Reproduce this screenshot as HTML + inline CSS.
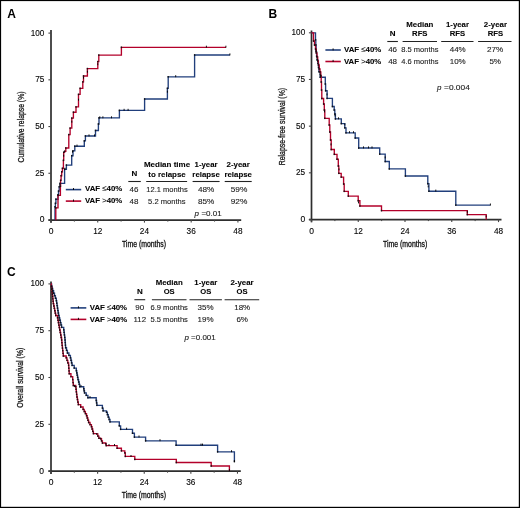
<!DOCTYPE html>
<html><head><meta charset="utf-8"><title>Figure</title>
<style>
html,body{margin:0;padding:0;background:#fff;}
body{width:520px;height:508px;overflow:hidden;}
svg{display:block;font-family:"Liberation Sans", sans-serif;will-change:transform;}
</style></head>
<body>
<svg width="520" height="508" viewBox="0 0 520 508">
<rect x="0" y="0" width="520" height="508" fill="#fff"/>
<text x="7.2" y="17.6" font-size="12" font-weight="bold" fill="#000">A</text>
<line x1="51.0" y1="30.0" x2="51.0" y2="222.8" stroke="#2e2e2e" stroke-width="1.7"/>
<line x1="48.4" y1="220.0" x2="241.2" y2="220.0" stroke="#2e2e2e" stroke-width="1.75"/>
<line x1="48.4" y1="220.0" x2="51.0" y2="220.0" stroke="#444" stroke-width="1.1"/>
<text x="44.4" y="222.45" font-size="8.8" text-anchor="end" textLength="4.75" lengthAdjust="spacingAndGlyphs" stroke="#1a1a1a" stroke-width="0.12">0</text>
<line x1="48.4" y1="173.275" x2="51.0" y2="173.275" stroke="#444" stroke-width="1.1"/>
<text x="44.4" y="175.72" font-size="8.8" text-anchor="end" textLength="9.200000000000001" lengthAdjust="spacingAndGlyphs" stroke="#1a1a1a" stroke-width="0.12">25</text>
<line x1="48.4" y1="126.55" x2="51.0" y2="126.55" stroke="#444" stroke-width="1.1"/>
<text x="44.4" y="129.00" font-size="8.8" text-anchor="end" textLength="9.200000000000001" lengthAdjust="spacingAndGlyphs" stroke="#1a1a1a" stroke-width="0.12">50</text>
<line x1="48.4" y1="79.82499999999999" x2="51.0" y2="79.82499999999999" stroke="#444" stroke-width="1.1"/>
<text x="44.4" y="82.27" font-size="8.8" text-anchor="end" textLength="9.200000000000001" lengthAdjust="spacingAndGlyphs" stroke="#1a1a1a" stroke-width="0.12">75</text>
<line x1="48.4" y1="33.099999999999994" x2="51.0" y2="33.099999999999994" stroke="#444" stroke-width="1.1"/>
<text x="44.4" y="35.55" font-size="8.8" text-anchor="end" textLength="13.650000000000002" lengthAdjust="spacingAndGlyphs" stroke="#1a1a1a" stroke-width="0.12">100</text>
<line x1="51.0" y1="220.0" x2="51.0" y2="222.6" stroke="#444" stroke-width="1.1"/>
<text x="51.00" y="233.9" font-size="8.8" text-anchor="middle" textLength="4.75" lengthAdjust="spacingAndGlyphs" stroke="#1a1a1a" stroke-width="0.12">0</text>
<line x1="74.364" y1="220.0" x2="74.364" y2="221.6" stroke="#444" stroke-width="1.0"/>
<line x1="97.72800000000001" y1="220.0" x2="97.72800000000001" y2="222.6" stroke="#444" stroke-width="1.1"/>
<text x="97.73" y="233.9" font-size="8.8" text-anchor="middle" textLength="9.200000000000001" lengthAdjust="spacingAndGlyphs" stroke="#1a1a1a" stroke-width="0.12">12</text>
<line x1="121.092" y1="220.0" x2="121.092" y2="221.6" stroke="#444" stroke-width="1.0"/>
<line x1="144.45600000000002" y1="220.0" x2="144.45600000000002" y2="222.6" stroke="#444" stroke-width="1.1"/>
<text x="144.46" y="233.9" font-size="8.8" text-anchor="middle" textLength="9.200000000000001" lengthAdjust="spacingAndGlyphs" stroke="#1a1a1a" stroke-width="0.12">24</text>
<line x1="167.82" y1="220.0" x2="167.82" y2="221.6" stroke="#444" stroke-width="1.0"/>
<line x1="191.184" y1="220.0" x2="191.184" y2="222.6" stroke="#444" stroke-width="1.1"/>
<text x="191.18" y="233.9" font-size="8.8" text-anchor="middle" textLength="9.200000000000001" lengthAdjust="spacingAndGlyphs" stroke="#1a1a1a" stroke-width="0.12">36</text>
<line x1="214.548" y1="220.0" x2="214.548" y2="221.6" stroke="#444" stroke-width="1.0"/>
<line x1="237.912" y1="220.0" x2="237.912" y2="222.6" stroke="#444" stroke-width="1.1"/>
<text x="237.91" y="233.9" font-size="8.8" text-anchor="middle" textLength="9.200000000000001" lengthAdjust="spacingAndGlyphs" stroke="#1a1a1a" stroke-width="0.12">48</text>
<text x="144.0" y="246.6" font-size="8.6" text-anchor="middle" textLength="44.2" lengthAdjust="spacingAndGlyphs" stroke="#1a1a1a" stroke-width="0.3">Time (months)</text>
<text x="0" y="0" font-size="8.6" text-anchor="middle" fill="#1a1a1a" stroke="#1a1a1a" stroke-width="0.3" textLength="71.0" lengthAdjust="spacingAndGlyphs" transform="translate(24.3,127.0) rotate(-90)">Cumulative relapse (%)</text>
<g transform="translate(0,0.3)">
<path d="M55.0,219.9V206.5H55.4V203H55.9V198.9H58V194.5H58.5V190.8H59.2V186.5H60V183.1H64.6V169H66.4V164.8H71.7V155.4H73.0V150.6H74.8V145.9H84.3V140.6H85.4V135.7H95.5V130.2H98.4V123.7H99.0V117.6H119.4V110.1H144.6V98.7H167.4V88H168.2V76.5H194.6V54.7H229.9" fill="none" stroke="#213f7c" stroke-width="1.35" stroke-linejoin="miter" stroke-linecap="butt"/>
<path d="M55.8,219.9V207.6H58.0V195H60.4V186H60.6V180H61.1V175.4H61.7V171.5H62.4V168H63.4V160H63.7V152H64.6V151H65.8V147.7H68.8V134.3H70.1V127.8H71.8V117.8H73.4V111.9H76.0V106.6H78.5V94.1H80.1V88H82.8V81.6H83.5V75.7H87.4V68.3H97.8V61.3H98.8V54.8H121.4V47.0H226" fill="none" stroke="#b3002a" stroke-width="1.35" stroke-linejoin="miter" stroke-linecap="butt"/>
<rect x="54.35" y="205.70" width="1.3" height="1.6" fill="#111"/>
<rect x="54.75" y="202.20" width="1.3" height="1.6" fill="#111"/>
<rect x="55.25" y="198.10" width="1.3" height="1.6" fill="#111"/>
<rect x="57.35" y="193.70" width="1.3" height="1.6" fill="#111"/>
<rect x="57.85" y="190.00" width="1.3" height="1.6" fill="#111"/>
<rect x="58.55" y="185.70" width="1.3" height="1.6" fill="#111"/>
<rect x="59.35" y="182.30" width="1.3" height="1.6" fill="#111"/>
<rect x="63.95" y="168.20" width="1.3" height="1.6" fill="#111"/>
<rect x="65.75" y="164.00" width="1.3" height="1.6" fill="#111"/>
<rect x="71.05" y="154.60" width="1.3" height="1.6" fill="#111"/>
<rect x="72.35" y="149.80" width="1.3" height="1.6" fill="#111"/>
<rect x="74.15" y="145.10" width="1.3" height="1.6" fill="#111"/>
<rect x="83.65" y="139.80" width="1.3" height="1.6" fill="#111"/>
<rect x="84.75" y="134.90" width="1.3" height="1.6" fill="#111"/>
<rect x="94.85" y="129.40" width="1.3" height="1.6" fill="#111"/>
<rect x="97.75" y="122.90" width="1.3" height="1.6" fill="#111"/>
<rect x="98.35" y="116.80" width="1.3" height="1.6" fill="#111"/>
<rect x="118.75" y="109.30" width="1.3" height="1.6" fill="#111"/>
<rect x="143.95" y="97.90" width="1.3" height="1.6" fill="#111"/>
<rect x="166.75" y="87.20" width="1.3" height="1.6" fill="#111"/>
<rect x="167.55" y="75.70" width="1.3" height="1.6" fill="#111"/>
<rect x="193.95" y="53.90" width="1.3" height="1.6" fill="#111"/>
<rect x="55.15" y="206.80" width="1.3" height="1.6" fill="#111"/>
<rect x="57.35" y="194.20" width="1.3" height="1.6" fill="#111"/>
<rect x="59.75" y="185.20" width="1.3" height="1.6" fill="#111"/>
<rect x="59.95" y="179.20" width="1.3" height="1.6" fill="#111"/>
<rect x="60.45" y="174.60" width="1.3" height="1.6" fill="#111"/>
<rect x="61.05" y="170.70" width="1.3" height="1.6" fill="#111"/>
<rect x="61.75" y="167.20" width="1.3" height="1.6" fill="#111"/>
<rect x="62.75" y="159.20" width="1.3" height="1.6" fill="#111"/>
<rect x="63.05" y="151.20" width="1.3" height="1.6" fill="#111"/>
<rect x="63.95" y="150.20" width="1.3" height="1.6" fill="#111"/>
<rect x="65.15" y="146.90" width="1.3" height="1.6" fill="#111"/>
<rect x="68.15" y="133.50" width="1.3" height="1.6" fill="#111"/>
<rect x="69.45" y="127.00" width="1.3" height="1.6" fill="#111"/>
<rect x="71.15" y="117.00" width="1.3" height="1.6" fill="#111"/>
<rect x="72.75" y="111.10" width="1.3" height="1.6" fill="#111"/>
<rect x="75.35" y="105.80" width="1.3" height="1.6" fill="#111"/>
<rect x="77.85" y="93.30" width="1.3" height="1.6" fill="#111"/>
<rect x="79.45" y="87.20" width="1.3" height="1.6" fill="#111"/>
<rect x="82.15" y="80.80" width="1.3" height="1.6" fill="#111"/>
<rect x="82.85" y="74.90" width="1.3" height="1.6" fill="#111"/>
<rect x="86.75" y="67.50" width="1.3" height="1.6" fill="#111"/>
<rect x="97.15" y="60.50" width="1.3" height="1.6" fill="#111"/>
<rect x="98.15" y="54.00" width="1.3" height="1.6" fill="#111"/>
<rect x="120.75" y="46.20" width="1.3" height="1.6" fill="#111"/>
<line x1="99.8" y1="116.0" x2="99.8" y2="118.0" stroke="#000" stroke-width="0.9"/>
<line x1="102.9" y1="116.0" x2="102.9" y2="118.0" stroke="#000" stroke-width="0.9"/>
<line x1="111.5" y1="116.0" x2="111.5" y2="118.0" stroke="#000" stroke-width="0.9"/>
<line x1="124.1" y1="108.5" x2="124.1" y2="110.5" stroke="#000" stroke-width="0.9"/>
<line x1="128.1" y1="108.5" x2="128.1" y2="110.5" stroke="#000" stroke-width="0.9"/>
<line x1="175.7" y1="74.9" x2="175.7" y2="76.9" stroke="#000" stroke-width="0.9"/>
<line x1="229.9" y1="53.1" x2="229.9" y2="55.1" stroke="#000" stroke-width="0.9"/>
<line x1="206.4" y1="45.4" x2="206.4" y2="47.4" stroke="#000" stroke-width="0.9"/>
<line x1="225.9" y1="45.4" x2="225.9" y2="47.4" stroke="#000" stroke-width="0.9"/>
<line x1="97.8" y1="62.9" x2="97.8" y2="64.9" stroke="#000" stroke-width="0.9"/>
<line x1="87.4" y1="70.4" x2="87.4" y2="72.4" stroke="#000" stroke-width="0.9"/>
<line x1="83.5" y1="76.4" x2="83.5" y2="78.4" stroke="#000" stroke-width="0.9"/>
<line x1="78.5" y1="98.4" x2="78.5" y2="100.4" stroke="#000" stroke-width="0.9"/>
<line x1="71.8" y1="120.4" x2="71.8" y2="122.4" stroke="#000" stroke-width="0.9"/>
<line x1="60" y1="183.4" x2="60" y2="185.4" stroke="#000" stroke-width="0.9"/>
<line x1="63.7" y1="154.4" x2="63.7" y2="156.4" stroke="#000" stroke-width="0.9"/>
<line x1="94.5" y1="134.1" x2="94.5" y2="136.1" stroke="#000" stroke-width="0.9"/>
<line x1="89" y1="134.1" x2="89" y2="136.1" stroke="#000" stroke-width="0.9"/>
<line x1="77" y1="144.3" x2="77" y2="146.3" stroke="#000" stroke-width="0.9"/>
<line x1="72.5" y1="150.4" x2="72.5" y2="152.4" stroke="#000" stroke-width="0.9"/>
<line x1="167.4" y1="90.4" x2="167.4" y2="92.4" stroke="#000" stroke-width="0.9"/>
<line x1="65" y1="167.4" x2="65" y2="169.4" stroke="#000" stroke-width="0.9"/>
</g>
<line x1="65.8" y1="189.6" x2="81.2" y2="189.6" stroke="#213f7c" stroke-width="1.6"/>
<line x1="65.8" y1="201.1" x2="81.2" y2="201.1" stroke="#b3002a" stroke-width="1.6"/>
<line x1="73.5" y1="188.0" x2="73.5" y2="190.0" stroke="#000" stroke-width="0.9"/>
<line x1="73.5" y1="199.5" x2="73.5" y2="201.5" stroke="#000" stroke-width="0.9"/>
<text x="85.0" y="191.4" font-size="8" font-weight="bold" textLength="37.3" lengthAdjust="spacingAndGlyphs" stroke="#1a1a1a" stroke-width="0.1">VAF <tspan font-weight="normal">≤</tspan>40%</text>
<text x="85.0" y="203.0" font-size="8" font-weight="bold" textLength="37.3" lengthAdjust="spacingAndGlyphs" stroke="#1a1a1a" stroke-width="0.1">VAF <tspan font-weight="normal">&gt;</tspan>40%</text>
<text x="134.3" y="176.0" font-size="8" font-weight="bold" text-anchor="middle" stroke="#1a1a1a" stroke-width="0.1">N</text>
<text x="167.0" y="167.3" font-size="8" font-weight="bold" text-anchor="middle" textLength="46.2" lengthAdjust="spacingAndGlyphs" stroke="#1a1a1a" stroke-width="0.1">Median time</text>
<text x="167.0" y="176.5" font-size="8" font-weight="bold" text-anchor="middle" textLength="37.5" lengthAdjust="spacingAndGlyphs" stroke="#1a1a1a" stroke-width="0.1">to relapse</text>
<text x="206.1" y="167.3" font-size="8" font-weight="bold" text-anchor="middle" textLength="23.0" lengthAdjust="spacingAndGlyphs" stroke="#1a1a1a" stroke-width="0.1">1-year</text>
<text x="206.1" y="176.5" font-size="8" font-weight="bold" text-anchor="middle" textLength="27.5" lengthAdjust="spacingAndGlyphs" stroke="#1a1a1a" stroke-width="0.1">relapse</text>
<text x="238.2" y="167.3" font-size="8" font-weight="bold" text-anchor="middle" textLength="23.2" lengthAdjust="spacingAndGlyphs" stroke="#1a1a1a" stroke-width="0.1">2-year</text>
<text x="238.2" y="176.5" font-size="8" font-weight="bold" text-anchor="middle" textLength="27.5" lengthAdjust="spacingAndGlyphs" stroke="#1a1a1a" stroke-width="0.1">relapse</text>
<line x1="128.3" y1="181.5" x2="140.8" y2="181.5" stroke="#222" stroke-width="1.1"/>
<line x1="146.2" y1="181.5" x2="187.1" y2="181.5" stroke="#222" stroke-width="1.1"/>
<line x1="192.6" y1="181.5" x2="219.6" y2="181.5" stroke="#222" stroke-width="1.1"/>
<line x1="224.7" y1="181.5" x2="251.7" y2="181.5" stroke="#222" stroke-width="1.1"/>
<text x="134.0" y="192.4" font-size="8" text-anchor="middle" fill="#222" stroke="#222" stroke-width="0.12">46</text>
<text x="167.0" y="192.4" font-size="8" text-anchor="middle" textLength="41.4" lengthAdjust="spacingAndGlyphs" fill="#222" stroke="#222" stroke-width="0.12">12.1 months</text>
<text x="206.1" y="192.4" font-size="8" text-anchor="middle" textLength="16.4" lengthAdjust="spacingAndGlyphs" fill="#222" stroke="#222" stroke-width="0.12">48%</text>
<text x="239.0" y="192.4" font-size="8" text-anchor="middle" textLength="16.6" lengthAdjust="spacingAndGlyphs" fill="#222" stroke="#222" stroke-width="0.12">59%</text>
<text x="134.0" y="204.0" font-size="8" text-anchor="middle" fill="#222" stroke="#222" stroke-width="0.12">48</text>
<text x="166.8" y="204.0" font-size="8" text-anchor="middle" textLength="37.4" lengthAdjust="spacingAndGlyphs" fill="#222" stroke="#222" stroke-width="0.12">5.2 months</text>
<text x="206.1" y="204.0" font-size="8" text-anchor="middle" textLength="16.4" lengthAdjust="spacingAndGlyphs" fill="#222" stroke="#222" stroke-width="0.12">85%</text>
<text x="239.0" y="204.0" font-size="8" text-anchor="middle" textLength="16.6" lengthAdjust="spacingAndGlyphs" fill="#222" stroke="#222" stroke-width="0.12">92%</text>
<text x="194.6" y="216.3" font-size="8" fill="#222" font-style="italic" stroke="#222" stroke-width="0.12">p</text>
<text x="201.4" y="216.3" font-size="8" textLength="20.2" lengthAdjust="spacingAndGlyphs" fill="#222" stroke="#222" stroke-width="0.12">=0.01</text>
<text x="268.5" y="17.6" font-size="12" font-weight="bold" fill="#000">B</text>
<line x1="311.5" y1="30.5" x2="311.5" y2="222.3" stroke="#2e2e2e" stroke-width="1.7"/>
<line x1="308.9" y1="219.5" x2="501.5" y2="219.5" stroke="#2e2e2e" stroke-width="1.75"/>
<line x1="308.9" y1="219.5" x2="311.5" y2="219.5" stroke="#444" stroke-width="1.1"/>
<text x="305.2" y="221.95" font-size="8.8" text-anchor="end" textLength="4.75" lengthAdjust="spacingAndGlyphs" stroke="#1a1a1a" stroke-width="0.12">0</text>
<line x1="308.9" y1="172.825" x2="311.5" y2="172.825" stroke="#444" stroke-width="1.1"/>
<text x="305.2" y="175.27" font-size="8.8" text-anchor="end" textLength="9.200000000000001" lengthAdjust="spacingAndGlyphs" stroke="#1a1a1a" stroke-width="0.12">25</text>
<line x1="308.9" y1="126.15" x2="311.5" y2="126.15" stroke="#444" stroke-width="1.1"/>
<text x="305.2" y="128.60" font-size="8.8" text-anchor="end" textLength="9.200000000000001" lengthAdjust="spacingAndGlyphs" stroke="#1a1a1a" stroke-width="0.12">50</text>
<line x1="308.9" y1="79.475" x2="311.5" y2="79.475" stroke="#444" stroke-width="1.1"/>
<text x="305.2" y="81.92" font-size="8.8" text-anchor="end" textLength="9.200000000000001" lengthAdjust="spacingAndGlyphs" stroke="#1a1a1a" stroke-width="0.12">75</text>
<line x1="308.9" y1="32.80000000000001" x2="311.5" y2="32.80000000000001" stroke="#444" stroke-width="1.1"/>
<text x="305.2" y="35.25" font-size="8.8" text-anchor="end" textLength="13.650000000000002" lengthAdjust="spacingAndGlyphs" stroke="#1a1a1a" stroke-width="0.12">100</text>
<line x1="311.5" y1="219.5" x2="311.5" y2="222.1" stroke="#444" stroke-width="1.1"/>
<text x="311.50" y="233.7" font-size="8.8" text-anchor="middle" textLength="4.75" lengthAdjust="spacingAndGlyphs" stroke="#1a1a1a" stroke-width="0.12">0</text>
<line x1="334.876" y1="219.5" x2="334.876" y2="221.1" stroke="#444" stroke-width="1.0"/>
<line x1="358.252" y1="219.5" x2="358.252" y2="222.1" stroke="#444" stroke-width="1.1"/>
<text x="358.25" y="233.7" font-size="8.8" text-anchor="middle" textLength="9.200000000000001" lengthAdjust="spacingAndGlyphs" stroke="#1a1a1a" stroke-width="0.12">12</text>
<line x1="381.628" y1="219.5" x2="381.628" y2="221.1" stroke="#444" stroke-width="1.0"/>
<line x1="405.004" y1="219.5" x2="405.004" y2="222.1" stroke="#444" stroke-width="1.1"/>
<text x="405.00" y="233.7" font-size="8.8" text-anchor="middle" textLength="9.200000000000001" lengthAdjust="spacingAndGlyphs" stroke="#1a1a1a" stroke-width="0.12">24</text>
<line x1="428.38" y1="219.5" x2="428.38" y2="221.1" stroke="#444" stroke-width="1.0"/>
<line x1="451.756" y1="219.5" x2="451.756" y2="222.1" stroke="#444" stroke-width="1.1"/>
<text x="451.76" y="233.7" font-size="8.8" text-anchor="middle" textLength="9.200000000000001" lengthAdjust="spacingAndGlyphs" stroke="#1a1a1a" stroke-width="0.12">36</text>
<line x1="475.132" y1="219.5" x2="475.132" y2="221.1" stroke="#444" stroke-width="1.0"/>
<line x1="498.508" y1="219.5" x2="498.508" y2="222.1" stroke="#444" stroke-width="1.1"/>
<text x="498.51" y="233.7" font-size="8.8" text-anchor="middle" textLength="9.200000000000001" lengthAdjust="spacingAndGlyphs" stroke="#1a1a1a" stroke-width="0.12">48</text>
<text x="405.15" y="246.6" font-size="8.6" text-anchor="middle" textLength="44.2" lengthAdjust="spacingAndGlyphs" stroke="#1a1a1a" stroke-width="0.3">Time (months)</text>
<text x="0" y="0" font-size="8.6" text-anchor="middle" fill="#1a1a1a" stroke="#1a1a1a" stroke-width="0.3" textLength="77.3" lengthAdjust="spacingAndGlyphs" transform="translate(284.8,126.6) rotate(-90)">Relapse-free survival (%)</text>
<path d="M311.5,32.8H315.5V39.8H315.8V45H316.1V51.6H316.6V56.3H317.3V60H317.9V63.4H318.5V67.5H319V71.7H320.2V77.2H325.3V84H325.6V90.7H327.1V98.4H332.4V106.5H334.2V110H334.8V114H335.4V118.9H341.3V123.6H344.8V127.8H346V132.8H355.2V138H358.7V148H379.7V154.1H385.2V161.5H389.3V168.9H405.4V176H427.8V183.7H428.9V191.2H455.8V205.1H490.4" fill="none" stroke="#213f7c" stroke-width="1.35" stroke-linejoin="miter" stroke-linecap="butt"/>
<path d="M311.5,32.8H313.5V41H314.5V45H315.5V49H316.3V53H317V57H317.7V61H318.4V65H319.2V69H320V72H320.8V76H321.2V82H321.5V90H321.8V98.5H323.6V104H324.3V110H324.8V118.3H329.2V125H329.8V132H330.5V140H331.2V149.5H334.3V154.3H337V159.2H338.3V166H338.8V173.3H341.2V177.1H343.6V184H344.2V191.3H348.3V196.1H358.2V200.7H359.9V206H381.5V210.6H467.3V214.6H486.2V219.5" fill="none" stroke="#b3002a" stroke-width="1.35" stroke-linejoin="miter" stroke-linecap="butt"/>
<rect x="314.85" y="39.00" width="1.3" height="1.6" fill="#111"/>
<rect x="315.15" y="44.20" width="1.3" height="1.6" fill="#111"/>
<rect x="315.45" y="50.80" width="1.3" height="1.6" fill="#111"/>
<rect x="315.95" y="55.50" width="1.3" height="1.6" fill="#111"/>
<rect x="316.65" y="59.20" width="1.3" height="1.6" fill="#111"/>
<rect x="317.25" y="62.60" width="1.3" height="1.6" fill="#111"/>
<rect x="317.85" y="66.70" width="1.3" height="1.6" fill="#111"/>
<rect x="318.35" y="70.90" width="1.3" height="1.6" fill="#111"/>
<rect x="319.55" y="76.40" width="1.3" height="1.6" fill="#111"/>
<rect x="324.65" y="83.20" width="1.3" height="1.6" fill="#111"/>
<rect x="324.95" y="89.90" width="1.3" height="1.6" fill="#111"/>
<rect x="326.45" y="97.60" width="1.3" height="1.6" fill="#111"/>
<rect x="331.75" y="105.70" width="1.3" height="1.6" fill="#111"/>
<rect x="333.55" y="109.20" width="1.3" height="1.6" fill="#111"/>
<rect x="334.15" y="113.20" width="1.3" height="1.6" fill="#111"/>
<rect x="334.75" y="118.10" width="1.3" height="1.6" fill="#111"/>
<rect x="340.65" y="122.80" width="1.3" height="1.6" fill="#111"/>
<rect x="344.15" y="127.00" width="1.3" height="1.6" fill="#111"/>
<rect x="345.35" y="132.00" width="1.3" height="1.6" fill="#111"/>
<rect x="354.55" y="137.20" width="1.3" height="1.6" fill="#111"/>
<rect x="358.05" y="147.20" width="1.3" height="1.6" fill="#111"/>
<rect x="379.05" y="153.30" width="1.3" height="1.6" fill="#111"/>
<rect x="384.55" y="160.70" width="1.3" height="1.6" fill="#111"/>
<rect x="388.65" y="168.10" width="1.3" height="1.6" fill="#111"/>
<rect x="404.75" y="175.20" width="1.3" height="1.6" fill="#111"/>
<rect x="427.15" y="182.90" width="1.3" height="1.6" fill="#111"/>
<rect x="428.25" y="190.40" width="1.3" height="1.6" fill="#111"/>
<rect x="455.15" y="204.30" width="1.3" height="1.6" fill="#111"/>
<rect x="312.85" y="40.20" width="1.3" height="1.6" fill="#111"/>
<rect x="313.85" y="44.20" width="1.3" height="1.6" fill="#111"/>
<rect x="314.85" y="48.20" width="1.3" height="1.6" fill="#111"/>
<rect x="315.65" y="52.20" width="1.3" height="1.6" fill="#111"/>
<rect x="316.35" y="56.20" width="1.3" height="1.6" fill="#111"/>
<rect x="317.05" y="60.20" width="1.3" height="1.6" fill="#111"/>
<rect x="317.75" y="64.20" width="1.3" height="1.6" fill="#111"/>
<rect x="318.55" y="68.20" width="1.3" height="1.6" fill="#111"/>
<rect x="319.35" y="71.20" width="1.3" height="1.6" fill="#111"/>
<rect x="320.15" y="75.20" width="1.3" height="1.6" fill="#111"/>
<rect x="320.55" y="81.20" width="1.3" height="1.6" fill="#111"/>
<rect x="320.85" y="89.20" width="1.3" height="1.6" fill="#111"/>
<rect x="321.15" y="97.70" width="1.3" height="1.6" fill="#111"/>
<rect x="322.95" y="103.20" width="1.3" height="1.6" fill="#111"/>
<rect x="323.65" y="109.20" width="1.3" height="1.6" fill="#111"/>
<rect x="324.15" y="117.50" width="1.3" height="1.6" fill="#111"/>
<rect x="328.55" y="124.20" width="1.3" height="1.6" fill="#111"/>
<rect x="329.15" y="131.20" width="1.3" height="1.6" fill="#111"/>
<rect x="329.85" y="139.20" width="1.3" height="1.6" fill="#111"/>
<rect x="330.55" y="148.70" width="1.3" height="1.6" fill="#111"/>
<rect x="333.65" y="153.50" width="1.3" height="1.6" fill="#111"/>
<rect x="336.35" y="158.40" width="1.3" height="1.6" fill="#111"/>
<rect x="337.65" y="165.20" width="1.3" height="1.6" fill="#111"/>
<rect x="338.15" y="172.50" width="1.3" height="1.6" fill="#111"/>
<rect x="340.55" y="176.30" width="1.3" height="1.6" fill="#111"/>
<rect x="342.95" y="183.20" width="1.3" height="1.6" fill="#111"/>
<rect x="343.55" y="190.50" width="1.3" height="1.6" fill="#111"/>
<rect x="347.65" y="195.30" width="1.3" height="1.6" fill="#111"/>
<rect x="357.55" y="199.90" width="1.3" height="1.6" fill="#111"/>
<rect x="359.25" y="205.20" width="1.3" height="1.6" fill="#111"/>
<rect x="380.85" y="209.80" width="1.3" height="1.6" fill="#111"/>
<rect x="466.65" y="213.80" width="1.3" height="1.6" fill="#111"/>
<line x1="490.4" y1="203.5" x2="490.4" y2="205.5" stroke="#000" stroke-width="0.9"/>
<line x1="435.8" y1="189.6" x2="435.8" y2="191.6" stroke="#000" stroke-width="0.9"/>
<line x1="363.5" y1="146.4" x2="363.5" y2="148.4" stroke="#000" stroke-width="0.9"/>
<line x1="368.5" y1="146.4" x2="368.5" y2="148.4" stroke="#000" stroke-width="0.9"/>
<line x1="349.5" y1="131.20000000000002" x2="349.5" y2="133.20000000000002" stroke="#000" stroke-width="0.9"/>
<line x1="353.5" y1="131.20000000000002" x2="353.5" y2="133.20000000000002" stroke="#000" stroke-width="0.9"/>
<line x1="338.5" y1="117.30000000000001" x2="338.5" y2="119.30000000000001" stroke="#000" stroke-width="0.9"/>
<line x1="372" y1="146.4" x2="372" y2="148.4" stroke="#000" stroke-width="0.9"/>
<line x1="344.8" y1="123.4" x2="344.8" y2="125.4" stroke="#000" stroke-width="0.9"/>
<line x1="320" y1="73.4" x2="320" y2="75.4" stroke="#000" stroke-width="0.9"/>
<line x1="317" y1="58.4" x2="317" y2="60.4" stroke="#000" stroke-width="0.9"/>
<line x1="385.2" y1="156.4" x2="385.2" y2="158.4" stroke="#000" stroke-width="0.9"/>
<line x1="428.2" y1="185.4" x2="428.2" y2="187.4" stroke="#000" stroke-width="0.9"/>
<line x1="335" y1="114.4" x2="335" y2="116.4" stroke="#000" stroke-width="0.9"/>
<line x1="467.3" y1="210.9" x2="467.3" y2="212.9" stroke="#000" stroke-width="0.9"/>
<line x1="486.2" y1="215.4" x2="486.2" y2="217.4" stroke="#000" stroke-width="0.9"/>
<line x1="320.8" y1="74.4" x2="320.8" y2="76.4" stroke="#000" stroke-width="0.9"/>
<line x1="331" y1="143.4" x2="331" y2="145.4" stroke="#000" stroke-width="0.9"/>
<line x1="339" y1="168.4" x2="339" y2="170.4" stroke="#000" stroke-width="0.9"/>
<line x1="324.5" y1="110.4" x2="324.5" y2="112.4" stroke="#000" stroke-width="0.9"/>
<line x1="358.5" y1="201.4" x2="358.5" y2="203.4" stroke="#000" stroke-width="0.9"/>
<line x1="327" y1="93.4" x2="327" y2="95.4" stroke="#000" stroke-width="0.9"/>
<line x1="316" y1="49.4" x2="316" y2="51.4" stroke="#000" stroke-width="0.9"/>
<line x1="325.4" y1="50.0" x2="340.8" y2="50.0" stroke="#213f7c" stroke-width="1.6"/>
<line x1="325.4" y1="61.5" x2="340.8" y2="61.5" stroke="#b3002a" stroke-width="1.6"/>
<line x1="333.1" y1="48.4" x2="333.1" y2="50.4" stroke="#000" stroke-width="0.9"/>
<line x1="333.1" y1="59.9" x2="333.1" y2="61.9" stroke="#000" stroke-width="0.9"/>
<text x="344.0" y="52.2" font-size="8" font-weight="bold" textLength="37.3" lengthAdjust="spacingAndGlyphs" stroke="#1a1a1a" stroke-width="0.1">VAF <tspan font-weight="normal">≤</tspan>40%</text>
<text x="344.0" y="63.8" font-size="8" font-weight="bold" textLength="37.3" lengthAdjust="spacingAndGlyphs" stroke="#1a1a1a" stroke-width="0.1">VAF <tspan font-weight="normal">&gt;</tspan>40%</text>
<text x="392.7" y="36.0" font-size="8" font-weight="bold" text-anchor="middle" stroke="#1a1a1a" stroke-width="0.1">N</text>
<text x="419.8" y="27.1" font-size="8" font-weight="bold" text-anchor="middle" textLength="27.0" lengthAdjust="spacingAndGlyphs" stroke="#1a1a1a" stroke-width="0.1">Median</text>
<text x="419.8" y="36.3" font-size="8" font-weight="bold" text-anchor="middle" textLength="15.4" lengthAdjust="spacingAndGlyphs" stroke="#1a1a1a" stroke-width="0.1">RFS</text>
<text x="457.5" y="27.1" font-size="8" font-weight="bold" text-anchor="middle" textLength="23.0" lengthAdjust="spacingAndGlyphs" stroke="#1a1a1a" stroke-width="0.1">1-year</text>
<text x="457.5" y="36.3" font-size="8" font-weight="bold" text-anchor="middle" textLength="15.4" lengthAdjust="spacingAndGlyphs" stroke="#1a1a1a" stroke-width="0.1">RFS</text>
<text x="495.4" y="27.1" font-size="8" font-weight="bold" text-anchor="middle" textLength="23.2" lengthAdjust="spacingAndGlyphs" stroke="#1a1a1a" stroke-width="0.1">2-year</text>
<text x="495.4" y="36.3" font-size="8" font-weight="bold" text-anchor="middle" textLength="15.4" lengthAdjust="spacingAndGlyphs" stroke="#1a1a1a" stroke-width="0.1">RFS</text>
<line x1="387.3" y1="41.5" x2="397.9" y2="41.5" stroke="#222" stroke-width="1.1"/>
<line x1="402.6" y1="41.5" x2="437.0" y2="41.5" stroke="#222" stroke-width="1.1"/>
<line x1="441.2" y1="41.5" x2="473.5" y2="41.5" stroke="#222" stroke-width="1.1"/>
<line x1="478.1" y1="41.5" x2="511.5" y2="41.5" stroke="#222" stroke-width="1.1"/>
<text x="392.6" y="52.4" font-size="8" text-anchor="middle" fill="#222" stroke="#222" stroke-width="0.12">46</text>
<text x="419.9" y="52.4" font-size="8" text-anchor="middle" textLength="37.2" lengthAdjust="spacingAndGlyphs" fill="#222" stroke="#222" stroke-width="0.12">8.5 months</text>
<text x="457.7" y="52.4" font-size="8" text-anchor="middle" textLength="16.0" lengthAdjust="spacingAndGlyphs" fill="#222" stroke="#222" stroke-width="0.12">44%</text>
<text x="495.2" y="52.4" font-size="8" text-anchor="middle" textLength="16.2" lengthAdjust="spacingAndGlyphs" fill="#222" stroke="#222" stroke-width="0.12">27%</text>
<text x="392.6" y="63.9" font-size="8" text-anchor="middle" fill="#222" stroke="#222" stroke-width="0.12">48</text>
<text x="419.9" y="63.9" font-size="8" text-anchor="middle" textLength="37.2" lengthAdjust="spacingAndGlyphs" fill="#222" stroke="#222" stroke-width="0.12">4.6 months</text>
<text x="457.7" y="63.9" font-size="8" text-anchor="middle" textLength="16.0" lengthAdjust="spacingAndGlyphs" fill="#222" stroke="#222" stroke-width="0.12">10%</text>
<text x="495.2" y="63.9" font-size="8" text-anchor="middle" textLength="11.6" lengthAdjust="spacingAndGlyphs" fill="#222" stroke="#222" stroke-width="0.12">5%</text>
<text x="437.1" y="90.3" font-size="8" fill="#222" font-style="italic" stroke="#222" stroke-width="0.12">p</text>
<text x="444.0" y="90.3" font-size="8" textLength="25.8" lengthAdjust="spacingAndGlyphs" fill="#222" stroke="#222" stroke-width="0.12">=0.004</text>
<text x="7.1" y="276.0" font-size="12" font-weight="bold" fill="#000">C</text>
<line x1="51.0" y1="281.6" x2="51.0" y2="473.90000000000003" stroke="#2e2e2e" stroke-width="1.7"/>
<line x1="48.4" y1="471.1" x2="240.8" y2="471.1" stroke="#2e2e2e" stroke-width="1.75"/>
<line x1="48.4" y1="471.1" x2="51.0" y2="471.1" stroke="#444" stroke-width="1.1"/>
<text x="44.1" y="473.55" font-size="8.8" text-anchor="end" textLength="4.75" lengthAdjust="spacingAndGlyphs" stroke="#1a1a1a" stroke-width="0.12">0</text>
<line x1="48.4" y1="424.3" x2="51.0" y2="424.3" stroke="#444" stroke-width="1.1"/>
<text x="44.1" y="426.75" font-size="8.8" text-anchor="end" textLength="9.200000000000001" lengthAdjust="spacingAndGlyphs" stroke="#1a1a1a" stroke-width="0.12">25</text>
<line x1="48.4" y1="377.5" x2="51.0" y2="377.5" stroke="#444" stroke-width="1.1"/>
<text x="44.1" y="379.95" font-size="8.8" text-anchor="end" textLength="9.200000000000001" lengthAdjust="spacingAndGlyphs" stroke="#1a1a1a" stroke-width="0.12">50</text>
<line x1="48.4" y1="330.70000000000005" x2="51.0" y2="330.70000000000005" stroke="#444" stroke-width="1.1"/>
<text x="44.1" y="333.15" font-size="8.8" text-anchor="end" textLength="9.200000000000001" lengthAdjust="spacingAndGlyphs" stroke="#1a1a1a" stroke-width="0.12">75</text>
<line x1="48.4" y1="283.9" x2="51.0" y2="283.9" stroke="#444" stroke-width="1.1"/>
<text x="44.1" y="286.35" font-size="8.8" text-anchor="end" textLength="13.650000000000002" lengthAdjust="spacingAndGlyphs" stroke="#1a1a1a" stroke-width="0.12">100</text>
<line x1="51.0" y1="471.1" x2="51.0" y2="473.70000000000005" stroke="#444" stroke-width="1.1"/>
<text x="51.00" y="485.1" font-size="8.8" text-anchor="middle" textLength="4.75" lengthAdjust="spacingAndGlyphs" stroke="#1a1a1a" stroke-width="0.12">0</text>
<line x1="74.31" y1="471.1" x2="74.31" y2="472.70000000000005" stroke="#444" stroke-width="1.0"/>
<line x1="97.62" y1="471.1" x2="97.62" y2="473.70000000000005" stroke="#444" stroke-width="1.1"/>
<text x="97.62" y="485.1" font-size="8.8" text-anchor="middle" textLength="9.200000000000001" lengthAdjust="spacingAndGlyphs" stroke="#1a1a1a" stroke-width="0.12">12</text>
<line x1="120.92999999999999" y1="471.1" x2="120.92999999999999" y2="472.70000000000005" stroke="#444" stroke-width="1.0"/>
<line x1="144.24" y1="471.1" x2="144.24" y2="473.70000000000005" stroke="#444" stroke-width="1.1"/>
<text x="144.24" y="485.1" font-size="8.8" text-anchor="middle" textLength="9.200000000000001" lengthAdjust="spacingAndGlyphs" stroke="#1a1a1a" stroke-width="0.12">24</text>
<line x1="167.55" y1="471.1" x2="167.55" y2="472.70000000000005" stroke="#444" stroke-width="1.0"/>
<line x1="190.85999999999999" y1="471.1" x2="190.85999999999999" y2="473.70000000000005" stroke="#444" stroke-width="1.1"/>
<text x="190.86" y="485.1" font-size="8.8" text-anchor="middle" textLength="9.200000000000001" lengthAdjust="spacingAndGlyphs" stroke="#1a1a1a" stroke-width="0.12">36</text>
<line x1="214.17" y1="471.1" x2="214.17" y2="472.70000000000005" stroke="#444" stroke-width="1.0"/>
<line x1="237.48" y1="471.1" x2="237.48" y2="473.70000000000005" stroke="#444" stroke-width="1.1"/>
<text x="237.48" y="485.1" font-size="8.8" text-anchor="middle" textLength="9.200000000000001" lengthAdjust="spacingAndGlyphs" stroke="#1a1a1a" stroke-width="0.12">48</text>
<text x="143.85" y="497.9" font-size="8.6" text-anchor="middle" textLength="44.2" lengthAdjust="spacingAndGlyphs" stroke="#1a1a1a" stroke-width="0.3">Time (months)</text>
<text x="0" y="0" font-size="8.6" text-anchor="middle" fill="#1a1a1a" stroke="#1a1a1a" stroke-width="0.3" textLength="60.1" lengthAdjust="spacingAndGlyphs" transform="translate(23.4,377.7) rotate(-90)">Overall survival (%)</text>
<path d="M51.00,283.90H51.57V286.13H52.13V288.37H52.70V290.60H53.60V293.12H54.50V295.65H55.40V298.18H56.30V300.70H56.68V303.17H57.07V305.63H57.45V308.10H57.83V310.57H58.22V313.03H58.60V315.50H59.20V317.86H59.80V320.22H60.40V322.58H61.00V324.94H61.60V327.30H63.40H63.72V329.84H64.04V332.38H64.36V334.92H64.68V337.46H65.00V340.00H65.20V342.57H65.40V345.13H65.60V347.70H66.50V350.35H67.40V353.00H68.90V355.40H70.40V357.80H70.97V360.33H71.53V362.87H72.10V365.40H74.20V368.05H76.30V370.70H76.72V372.93H77.15V375.15H77.58V377.38H78.00V379.60H78.60V381.97H79.20V384.33H79.80V386.70H83.30H83.70V388.77H84.10V390.83H84.50V392.90H86.20V395.30H87.90V397.70H92.70H96.20V400.50H96.55V402.90H96.90V405.30H101.70H102.40V408.05H103.10V410.80H106.50V412.20H107.38V414.62H108.25V417.05H109.12V419.47H110.00V421.90H119.3V425.8H120.6V429.3H132.5V433.2H134.4V437.1H145.6V440.8H176.1V445.2H217.6V451.8H234.4V461.6" fill="none" stroke="#213f7c" stroke-width="1.35" stroke-linejoin="miter" stroke-linecap="butt"/>
<path d="M51.00,283.90H51.37V286.53H51.73V289.17H52.10V291.80H52.34V294.16H52.58V296.52H52.82V298.88H53.06V301.24H53.30V303.60H53.78V305.98H54.26V308.36H54.74V310.74H55.22V313.12H55.70V315.50H57.50V317.80H57.94V320.24H58.38V322.68H58.82V325.12H59.26V327.56H59.70V330.00H60.18V332.50H60.65V335.00H61.12V337.50H61.60V340.00H61.85V342.70H62.10V345.40H62.40V348.05H62.70V350.70H63.00V353.35H63.30V356.00H66.20V357.80H67.00V360.33H67.80V362.87H68.60V365.40H68.80V368.17H69.00V370.93H69.20V373.70H70.95V376.65H72.70V379.60H73.00V382.55H73.30V385.50H75.70V386.70H76.00V389.27H76.30V391.85H76.60V394.43H76.90V397.00H77.37V399.53H77.83V402.07H78.30V404.60H80.70V407.00H83.10V409.40H84.23V411.50H85.37V413.60H86.50V415.70H87.20V417.97H87.90V420.23H88.60V422.50H90.00V424.60H91.40V426.70H92.07V429.00H92.73V431.30H93.40V433.60H96.70V433.90H97.80V436.05H98.90V438.20H100.60V438.70H101.50V440.85H102.40V443.00H105.80V443.80H106.20V445.60H117.1V448.2H121.4V450.8H124.8V452.9H125.3V456.4H134.8V459.4H176.3V462.5H211.2V466H229.4V470.8" fill="none" stroke="#b3002a" stroke-width="1.35" stroke-linejoin="miter" stroke-linecap="butt"/>
<rect x="50.92" y="285.33" width="1.3" height="1.6" fill="#111"/>
<rect x="51.48" y="287.57" width="1.3" height="1.6" fill="#111"/>
<rect x="52.05" y="289.80" width="1.3" height="1.6" fill="#111"/>
<rect x="52.95" y="292.32" width="1.3" height="1.6" fill="#111"/>
<rect x="53.85" y="294.85" width="1.3" height="1.6" fill="#111"/>
<rect x="54.75" y="297.38" width="1.3" height="1.6" fill="#111"/>
<rect x="55.65" y="299.90" width="1.3" height="1.6" fill="#111"/>
<rect x="56.03" y="302.37" width="1.3" height="1.6" fill="#111"/>
<rect x="56.42" y="304.83" width="1.3" height="1.6" fill="#111"/>
<rect x="56.80" y="307.30" width="1.3" height="1.6" fill="#111"/>
<rect x="57.18" y="309.77" width="1.3" height="1.6" fill="#111"/>
<rect x="57.57" y="312.23" width="1.3" height="1.6" fill="#111"/>
<rect x="57.95" y="314.70" width="1.3" height="1.6" fill="#111"/>
<rect x="58.55" y="317.06" width="1.3" height="1.6" fill="#111"/>
<rect x="59.15" y="319.42" width="1.3" height="1.6" fill="#111"/>
<rect x="59.75" y="321.78" width="1.3" height="1.6" fill="#111"/>
<rect x="60.35" y="324.14" width="1.3" height="1.6" fill="#111"/>
<rect x="60.95" y="326.50" width="1.3" height="1.6" fill="#111"/>
<rect x="63.07" y="329.04" width="1.3" height="1.6" fill="#111"/>
<rect x="63.39" y="331.58" width="1.3" height="1.6" fill="#111"/>
<rect x="63.71" y="334.12" width="1.3" height="1.6" fill="#111"/>
<rect x="64.03" y="336.66" width="1.3" height="1.6" fill="#111"/>
<rect x="64.35" y="339.20" width="1.3" height="1.6" fill="#111"/>
<rect x="64.55" y="341.77" width="1.3" height="1.6" fill="#111"/>
<rect x="64.75" y="344.33" width="1.3" height="1.6" fill="#111"/>
<rect x="64.95" y="346.90" width="1.3" height="1.6" fill="#111"/>
<rect x="65.85" y="349.55" width="1.3" height="1.6" fill="#111"/>
<rect x="66.75" y="352.20" width="1.3" height="1.6" fill="#111"/>
<rect x="68.25" y="354.60" width="1.3" height="1.6" fill="#111"/>
<rect x="69.75" y="357.00" width="1.3" height="1.6" fill="#111"/>
<rect x="70.32" y="359.53" width="1.3" height="1.6" fill="#111"/>
<rect x="70.88" y="362.07" width="1.3" height="1.6" fill="#111"/>
<rect x="71.45" y="364.60" width="1.3" height="1.6" fill="#111"/>
<rect x="73.55" y="367.25" width="1.3" height="1.6" fill="#111"/>
<rect x="75.65" y="369.90" width="1.3" height="1.6" fill="#111"/>
<rect x="76.07" y="372.13" width="1.3" height="1.6" fill="#111"/>
<rect x="76.50" y="374.35" width="1.3" height="1.6" fill="#111"/>
<rect x="76.93" y="376.58" width="1.3" height="1.6" fill="#111"/>
<rect x="77.35" y="378.80" width="1.3" height="1.6" fill="#111"/>
<rect x="77.95" y="381.17" width="1.3" height="1.6" fill="#111"/>
<rect x="78.55" y="383.53" width="1.3" height="1.6" fill="#111"/>
<rect x="79.15" y="385.90" width="1.3" height="1.6" fill="#111"/>
<rect x="83.05" y="387.97" width="1.3" height="1.6" fill="#111"/>
<rect x="83.45" y="390.03" width="1.3" height="1.6" fill="#111"/>
<rect x="83.85" y="392.10" width="1.3" height="1.6" fill="#111"/>
<rect x="85.55" y="394.50" width="1.3" height="1.6" fill="#111"/>
<rect x="87.25" y="396.90" width="1.3" height="1.6" fill="#111"/>
<rect x="95.55" y="399.70" width="1.3" height="1.6" fill="#111"/>
<rect x="95.90" y="402.10" width="1.3" height="1.6" fill="#111"/>
<rect x="96.25" y="404.50" width="1.3" height="1.6" fill="#111"/>
<rect x="101.75" y="407.25" width="1.3" height="1.6" fill="#111"/>
<rect x="102.45" y="410.00" width="1.3" height="1.6" fill="#111"/>
<rect x="105.85" y="411.40" width="1.3" height="1.6" fill="#111"/>
<rect x="106.73" y="413.82" width="1.3" height="1.6" fill="#111"/>
<rect x="107.60" y="416.25" width="1.3" height="1.6" fill="#111"/>
<rect x="108.47" y="418.67" width="1.3" height="1.6" fill="#111"/>
<rect x="109.35" y="421.10" width="1.3" height="1.6" fill="#111"/>
<rect x="118.65" y="425.00" width="1.3" height="1.6" fill="#111"/>
<rect x="119.95" y="428.50" width="1.3" height="1.6" fill="#111"/>
<rect x="131.85" y="432.40" width="1.3" height="1.6" fill="#111"/>
<rect x="133.75" y="436.30" width="1.3" height="1.6" fill="#111"/>
<rect x="144.95" y="440.00" width="1.3" height="1.6" fill="#111"/>
<rect x="175.45" y="444.40" width="1.3" height="1.6" fill="#111"/>
<rect x="216.95" y="451.00" width="1.3" height="1.6" fill="#111"/>
<rect x="233.75" y="460.80" width="1.3" height="1.6" fill="#111"/>
<rect x="50.72" y="285.73" width="1.3" height="1.6" fill="#111"/>
<rect x="51.08" y="288.37" width="1.3" height="1.6" fill="#111"/>
<rect x="51.45" y="291.00" width="1.3" height="1.6" fill="#111"/>
<rect x="51.69" y="293.36" width="1.3" height="1.6" fill="#111"/>
<rect x="51.93" y="295.72" width="1.3" height="1.6" fill="#111"/>
<rect x="52.17" y="298.08" width="1.3" height="1.6" fill="#111"/>
<rect x="52.41" y="300.44" width="1.3" height="1.6" fill="#111"/>
<rect x="52.65" y="302.80" width="1.3" height="1.6" fill="#111"/>
<rect x="53.13" y="305.18" width="1.3" height="1.6" fill="#111"/>
<rect x="53.61" y="307.56" width="1.3" height="1.6" fill="#111"/>
<rect x="54.09" y="309.94" width="1.3" height="1.6" fill="#111"/>
<rect x="54.57" y="312.32" width="1.3" height="1.6" fill="#111"/>
<rect x="55.05" y="314.70" width="1.3" height="1.6" fill="#111"/>
<rect x="56.85" y="317.00" width="1.3" height="1.6" fill="#111"/>
<rect x="57.29" y="319.44" width="1.3" height="1.6" fill="#111"/>
<rect x="57.73" y="321.88" width="1.3" height="1.6" fill="#111"/>
<rect x="58.17" y="324.32" width="1.3" height="1.6" fill="#111"/>
<rect x="58.61" y="326.76" width="1.3" height="1.6" fill="#111"/>
<rect x="59.05" y="329.20" width="1.3" height="1.6" fill="#111"/>
<rect x="59.53" y="331.70" width="1.3" height="1.6" fill="#111"/>
<rect x="60.00" y="334.20" width="1.3" height="1.6" fill="#111"/>
<rect x="60.47" y="336.70" width="1.3" height="1.6" fill="#111"/>
<rect x="60.95" y="339.20" width="1.3" height="1.6" fill="#111"/>
<rect x="61.20" y="341.90" width="1.3" height="1.6" fill="#111"/>
<rect x="61.45" y="344.60" width="1.3" height="1.6" fill="#111"/>
<rect x="61.75" y="347.25" width="1.3" height="1.6" fill="#111"/>
<rect x="62.05" y="349.90" width="1.3" height="1.6" fill="#111"/>
<rect x="62.35" y="352.55" width="1.3" height="1.6" fill="#111"/>
<rect x="62.65" y="355.20" width="1.3" height="1.6" fill="#111"/>
<rect x="65.55" y="357.00" width="1.3" height="1.6" fill="#111"/>
<rect x="66.35" y="359.53" width="1.3" height="1.6" fill="#111"/>
<rect x="67.15" y="362.07" width="1.3" height="1.6" fill="#111"/>
<rect x="67.95" y="364.60" width="1.3" height="1.6" fill="#111"/>
<rect x="68.15" y="367.37" width="1.3" height="1.6" fill="#111"/>
<rect x="68.35" y="370.13" width="1.3" height="1.6" fill="#111"/>
<rect x="68.55" y="372.90" width="1.3" height="1.6" fill="#111"/>
<rect x="70.30" y="375.85" width="1.3" height="1.6" fill="#111"/>
<rect x="72.05" y="378.80" width="1.3" height="1.6" fill="#111"/>
<rect x="72.35" y="381.75" width="1.3" height="1.6" fill="#111"/>
<rect x="72.65" y="384.70" width="1.3" height="1.6" fill="#111"/>
<rect x="75.05" y="385.90" width="1.3" height="1.6" fill="#111"/>
<rect x="75.35" y="388.47" width="1.3" height="1.6" fill="#111"/>
<rect x="75.65" y="391.05" width="1.3" height="1.6" fill="#111"/>
<rect x="75.95" y="393.63" width="1.3" height="1.6" fill="#111"/>
<rect x="76.25" y="396.20" width="1.3" height="1.6" fill="#111"/>
<rect x="76.72" y="398.73" width="1.3" height="1.6" fill="#111"/>
<rect x="77.18" y="401.27" width="1.3" height="1.6" fill="#111"/>
<rect x="77.65" y="403.80" width="1.3" height="1.6" fill="#111"/>
<rect x="80.05" y="406.20" width="1.3" height="1.6" fill="#111"/>
<rect x="82.45" y="408.60" width="1.3" height="1.6" fill="#111"/>
<rect x="83.58" y="410.70" width="1.3" height="1.6" fill="#111"/>
<rect x="84.72" y="412.80" width="1.3" height="1.6" fill="#111"/>
<rect x="85.85" y="414.90" width="1.3" height="1.6" fill="#111"/>
<rect x="86.55" y="417.17" width="1.3" height="1.6" fill="#111"/>
<rect x="87.25" y="419.43" width="1.3" height="1.6" fill="#111"/>
<rect x="87.95" y="421.70" width="1.3" height="1.6" fill="#111"/>
<rect x="89.35" y="423.80" width="1.3" height="1.6" fill="#111"/>
<rect x="90.75" y="425.90" width="1.3" height="1.6" fill="#111"/>
<rect x="91.42" y="428.20" width="1.3" height="1.6" fill="#111"/>
<rect x="92.08" y="430.50" width="1.3" height="1.6" fill="#111"/>
<rect x="92.75" y="432.80" width="1.3" height="1.6" fill="#111"/>
<rect x="96.05" y="433.10" width="1.3" height="1.6" fill="#111"/>
<rect x="97.15" y="435.25" width="1.3" height="1.6" fill="#111"/>
<rect x="98.25" y="437.40" width="1.3" height="1.6" fill="#111"/>
<rect x="99.95" y="437.90" width="1.3" height="1.6" fill="#111"/>
<rect x="100.85" y="440.05" width="1.3" height="1.6" fill="#111"/>
<rect x="101.75" y="442.20" width="1.3" height="1.6" fill="#111"/>
<rect x="105.15" y="443.00" width="1.3" height="1.6" fill="#111"/>
<rect x="105.55" y="444.80" width="1.3" height="1.6" fill="#111"/>
<rect x="116.45" y="447.40" width="1.3" height="1.6" fill="#111"/>
<rect x="120.75" y="450.00" width="1.3" height="1.6" fill="#111"/>
<rect x="124.15" y="452.10" width="1.3" height="1.6" fill="#111"/>
<rect x="124.65" y="455.60" width="1.3" height="1.6" fill="#111"/>
<rect x="134.15" y="458.60" width="1.3" height="1.6" fill="#111"/>
<rect x="175.65" y="461.70" width="1.3" height="1.6" fill="#111"/>
<rect x="210.55" y="465.20" width="1.3" height="1.6" fill="#111"/>
<line x1="234.4" y1="460.0" x2="234.4" y2="462.0" stroke="#000" stroke-width="0.9"/>
<line x1="201" y1="443.59999999999997" x2="201" y2="445.59999999999997" stroke="#000" stroke-width="0.9"/>
<line x1="202.5" y1="443.59999999999997" x2="202.5" y2="445.59999999999997" stroke="#000" stroke-width="0.9"/>
<line x1="231.5" y1="450.2" x2="231.5" y2="452.2" stroke="#000" stroke-width="0.9"/>
<line x1="229.4" y1="469.2" x2="229.4" y2="471.2" stroke="#000" stroke-width="0.9"/>
<line x1="160" y1="439.2" x2="160" y2="441.2" stroke="#000" stroke-width="0.9"/>
<line x1="139" y1="435.5" x2="139" y2="437.5" stroke="#000" stroke-width="0.9"/>
<line x1="126.6" y1="427.7" x2="126.6" y2="429.7" stroke="#000" stroke-width="0.9"/>
<line x1="114.5" y1="444.0" x2="114.5" y2="446.0" stroke="#000" stroke-width="0.9"/>
<line x1="109" y1="444.0" x2="109" y2="446.0" stroke="#000" stroke-width="0.9"/>
<line x1="90" y1="396.09999999999997" x2="90" y2="398.09999999999997" stroke="#000" stroke-width="0.9"/>
<line x1="81" y1="385.09999999999997" x2="81" y2="387.09999999999997" stroke="#000" stroke-width="0.9"/>
<line x1="74.5" y1="385.09999999999997" x2="74.5" y2="387.09999999999997" stroke="#000" stroke-width="0.9"/>
<line x1="131" y1="455.0" x2="131" y2="457.0" stroke="#000" stroke-width="0.9"/>
<line x1="70.6" y1="307.9" x2="86.3" y2="307.9" stroke="#213f7c" stroke-width="1.6"/>
<line x1="70.6" y1="319.4" x2="86.3" y2="319.4" stroke="#b3002a" stroke-width="1.6"/>
<line x1="78.44999999999999" y1="306.29999999999995" x2="78.44999999999999" y2="308.29999999999995" stroke="#000" stroke-width="0.9"/>
<line x1="78.44999999999999" y1="317.79999999999995" x2="78.44999999999999" y2="319.79999999999995" stroke="#000" stroke-width="0.9"/>
<text x="89.8" y="310.3" font-size="8" font-weight="bold" textLength="37.3" lengthAdjust="spacingAndGlyphs" stroke="#1a1a1a" stroke-width="0.1">VAF <tspan font-weight="normal">≤</tspan>40%</text>
<text x="89.8" y="321.8" font-size="8" font-weight="bold" textLength="37.3" lengthAdjust="spacingAndGlyphs" stroke="#1a1a1a" stroke-width="0.1">VAF <tspan font-weight="normal">&gt;</tspan>40%</text>
<text x="139.8" y="293.8" font-size="8" font-weight="bold" text-anchor="middle" stroke="#1a1a1a" stroke-width="0.1">N</text>
<text x="169.2" y="285.2" font-size="8" font-weight="bold" text-anchor="middle" textLength="27.0" lengthAdjust="spacingAndGlyphs" stroke="#1a1a1a" stroke-width="0.1">Median</text>
<text x="169.2" y="294.4" font-size="8" font-weight="bold" text-anchor="middle" textLength="11.0" lengthAdjust="spacingAndGlyphs" stroke="#1a1a1a" stroke-width="0.1">OS</text>
<text x="205.8" y="285.2" font-size="8" font-weight="bold" text-anchor="middle" textLength="23.0" lengthAdjust="spacingAndGlyphs" stroke="#1a1a1a" stroke-width="0.1">1-year</text>
<text x="205.8" y="294.4" font-size="8" font-weight="bold" text-anchor="middle" textLength="11.0" lengthAdjust="spacingAndGlyphs" stroke="#1a1a1a" stroke-width="0.1">OS</text>
<text x="242.0" y="285.2" font-size="8" font-weight="bold" text-anchor="middle" textLength="23.2" lengthAdjust="spacingAndGlyphs" stroke="#1a1a1a" stroke-width="0.1">2-year</text>
<text x="242.0" y="294.4" font-size="8" font-weight="bold" text-anchor="middle" textLength="11.0" lengthAdjust="spacingAndGlyphs" stroke="#1a1a1a" stroke-width="0.1">OS</text>
<line x1="134.4" y1="299.7" x2="145.2" y2="299.7" stroke="#222" stroke-width="1.1"/>
<line x1="151.9" y1="299.7" x2="186.5" y2="299.7" stroke="#222" stroke-width="1.1"/>
<line x1="189.5" y1="299.7" x2="221.9" y2="299.7" stroke="#222" stroke-width="1.1"/>
<line x1="224.6" y1="299.7" x2="259.2" y2="299.7" stroke="#222" stroke-width="1.1"/>
<text x="139.7" y="310.1" font-size="8" text-anchor="middle" fill="#222" stroke="#222" stroke-width="0.12">90</text>
<text x="169.2" y="310.1" font-size="8" text-anchor="middle" textLength="37.4" lengthAdjust="spacingAndGlyphs" fill="#222" stroke="#222" stroke-width="0.12">6.9 months</text>
<text x="205.5" y="310.1" font-size="8" text-anchor="middle" textLength="16.0" lengthAdjust="spacingAndGlyphs" fill="#222" stroke="#222" stroke-width="0.12">35%</text>
<text x="242.2" y="310.1" font-size="8" text-anchor="middle" textLength="16.0" lengthAdjust="spacingAndGlyphs" fill="#222" stroke="#222" stroke-width="0.12">18%</text>
<text x="139.8" y="321.6" font-size="8" text-anchor="middle" textLength="12.6" lengthAdjust="spacingAndGlyphs" fill="#222" stroke="#222" stroke-width="0.12">112</text>
<text x="169.2" y="321.6" font-size="8" text-anchor="middle" textLength="37.4" lengthAdjust="spacingAndGlyphs" fill="#222" stroke="#222" stroke-width="0.12">5.5 months</text>
<text x="205.5" y="321.6" font-size="8" text-anchor="middle" textLength="16.0" lengthAdjust="spacingAndGlyphs" fill="#222" stroke="#222" stroke-width="0.12">19%</text>
<text x="242.2" y="321.6" font-size="8" text-anchor="middle" textLength="11.6" lengthAdjust="spacingAndGlyphs" fill="#222" stroke="#222" stroke-width="0.12">6%</text>
<text x="184.4" y="339.9" font-size="8" fill="#222" font-style="italic" stroke="#222" stroke-width="0.12">p</text>
<text x="191.1" y="339.9" font-size="8" textLength="24.6" lengthAdjust="spacingAndGlyphs" fill="#222" stroke="#222" stroke-width="0.12">=0.001</text>
<rect x="0" y="0" width="520" height="1.1" fill="#000"/>
<rect x="0" y="0" width="1.1" height="508" fill="#000"/>
<rect x="518.8" y="0" width="1.2" height="508" fill="#000"/>
<rect x="0" y="506.8" width="520" height="1.2" fill="#000"/>
</svg>
</body></html>
